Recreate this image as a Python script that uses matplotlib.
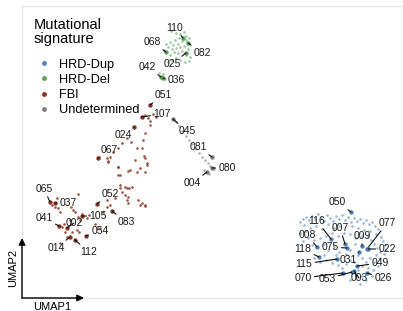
import matplotlib.pyplot as plt
from matplotlib.lines import Line2D

plt.rcParams['font.family'] = ['Liberation Sans', 'DejaVu Sans']

# UMAP embedding (units, y grows downwards)
groups = ['HRD-Dup', 'HRD-Del', 'FBI', 'Undetermined']
colors = {'HRD-Dup': '#5283bd', 'HRD-Del': '#5aa25a',
          'FBI': '#8a3522', 'Undetermined': '#7f7f7f'}

dup_x = [300, 303, 306, 309, 312, 315, 318, 321, 324, 327, 330, 333, 336, 339, 342, 345, 348, 351, 354, 357,
         360, 363, 366, 369, 372, 375, 378, 304, 310, 316, 322, 328, 334, 340, 352, 358, 364, 370, 376, 381,
         383, 385, 386, 384, 380, 377, 374, 371, 368, 362, 356, 350, 344, 338, 332, 326, 320, 314, 308, 303,
         300, 306, 312, 324, 328, 334, 339, 350, 355, 358, 362, 366, 370, 374, 378, 373, 368, 362, 358, 354,
         350, 346, 342, 338, 332, 326, 320, 314, 356, 362, 350, 366, 372, 360, 346, 336, 324, 380, 376]
dup_y = [222, 219, 217, 220, 216, 219, 214, 218, 221, 215, 218, 221, 216, 219, 215, 220, 217, 222, 218, 221,
         219, 223, 220, 224, 222, 226, 229, 225, 228, 226, 229, 224, 228, 226, 226, 228, 230, 231, 234, 237,
         241, 245, 250, 254, 252, 248, 244, 240, 236, 236, 238, 234, 233, 236, 233, 236, 238, 240, 238, 241,
         233, 231, 245, 244, 250, 247, 252, 250, 244, 255, 258, 262, 258, 262, 266, 270, 268, 266, 270, 262,
         260, 264, 268, 265, 263, 260, 262, 258, 276, 276, 280, 280, 276, 284, 254, 255, 255, 258, 255]

del_x = [171, 176, 180, 184, 186, 179, 175, 170, 173, 178, 182, 186, 189, 168, 172, 176, 180, 184, 174, 178,
         170, 182, 186, 190, 189, 185, 176, 172, 168, 180, 188, 166, 164, 163, 165, 159]
del_y = [31, 33, 34, 32, 36, 38, 40, 42, 45, 44, 41, 40, 38, 47, 49, 48, 47, 46, 52, 53,
         55, 51, 55, 57, 61, 62, 58, 60, 62, 60, 49, 44, 50, 74, 79, 73]

fbi_x = [144, 147, 137, 128, 118, 118, 120, 125, 129, 122, 125, 127, 128, 142, 145, 115, 107, 103, 89, 87,
         77, 79, 72, 65, 62, 67, 107, 108, 99, 145, 148, 150, 153, 156, 150, 145, 143, 142, 137, 131,
         127, 122, 118, 113, 110, 108, 118, 120, 130, 135, 145, 147, 140, 145, 120, 127, 132, 128, 140, 145,
         138, 110, 107, 52, 55, 58, 60, 73, 71, 75, 78, 80, 82, 70, 64, 78, 57, 95, 100, 60]
fbi_y = [156, 165, 172, 171, 167, 175, 185, 187, 188, 192, 195, 200, 203, 203, 206, 198, 207, 212, 215, 218,
         230, 232, 232, 232, 227, 237, 158, 162, 157, 115, 118, 121, 114, 117, 125, 133, 140, 148, 148, 142,
         138, 143, 148, 152, 157, 161, 167, 175, 170, 160, 158, 163, 168, 172, 188, 188, 187, 197, 205, 205,
         200, 205, 200, 205, 207, 208, 212, 210, 207, 212, 217, 220, 214, 220, 224, 194, 198, 224, 228, 243]

und_x = [176, 179, 182, 186, 189, 192, 196, 199, 202, 205, 208, 210, 214, 204, 209]
und_y = [122, 126, 131, 136, 140, 144, 149, 153, 157, 160, 163, 166, 169, 170, 174]

clouds = {'HRD-Dup': (dup_x, dup_y), 'HRD-Del': (del_x, del_y),
          'FBI': (fbi_x, fbi_y), 'Undetermined': (und_x, und_y)}

# labelled samples: id, group, point, label position
lab_ids = ['110', '068', '082', '025', '042', '036',
           '045', '081', '080', '004',
           '051', '107', '024', '067', '052', '065', '037', '041', '002', '105', '083', '054', '014', '112',
           '050', '116', '007', '077', '008', '009', '075', '022', '118', '115', '031', '049', '070', '053',
           '003', '026']
lab_grp = ['HRD-Del'] * 6 + ['Undetermined'] * 4 + ['FBI'] * 14 + ['HRD-Dup'] * 16
lab_px = [183, 166, 188, 186, 161, 163,
          173, 212, 212, 207,
          150, 142, 134, 98, 97, 50, 55, 59, 67, 82, 112, 86, 70, 75,
          351, 331, 345, 367, 317, 362, 347, 368, 319, 337, 359, 357, 343, 352, 354, 367]
lab_py = [38, 52, 43, 53, 77, 78,
          119, 157, 168, 172,
          105, 117, 127, 158, 204, 202, 203, 226, 228, 216, 211, 236, 237, 240,
          212, 239, 244, 249, 247, 246, 248, 249, 257, 259, 252, 266, 273, 272, 271, 273]
lab_tx = [175, 152, 202, 172, 147, 176,
          187, 198, 227, 192,
          163, 162, 123, 109, 110, 44, 68, 44, 74, 98, 126, 100, 56, 89,
          337, 317, 340, 387, 307, 362, 330, 387, 303, 304, 348, 380, 303, 327, 359, 383]
lab_ty = [28, 42, 53, 64, 67, 80,
          131, 147, 168, 183,
          95, 114, 135, 150, 194, 189, 203, 218, 223, 216, 222, 231, 248, 252,
          202, 221, 228, 223, 235, 236, 247, 249, 249, 264, 260, 263, 278, 279, 278, 278]

fig = plt.figure(figsize=(4.03, 3.11), dpi=100)
ax = fig.add_axes([0, 0, 1, 1])
ax.set_xlim(0, 403)
ax.set_ylim(311, 0)
ax.axis('off')

# light panel frame
ax.axhline(6, xmin=22 / 403, color='#e8e8e8', lw=1)
ax.axhline(298, xmin=22 / 403, color='#e8e8e8', lw=1)
ax.axvline(22, ymin=13 / 311, ymax=305 / 311, color='#e8e8e8', lw=1)

for g in groups:
    xs, ys = clouds[g]
    a = 0.85 if g == 'FBI' else 0.6
    ax.scatter(xs, ys, s=3.5, color=colors[g], alpha=a, lw=0)

for i, name in enumerate(lab_ids):
    c = colors[lab_grp[i]]
    ax.scatter([lab_px[i]], [lab_py[i]], s=10, color=c, lw=0, zorder=3)
    ax.annotate(name, xy=(lab_px[i], lab_py[i]), xytext=(lab_tx[i], lab_ty[i]),
                ha='center', va='center', fontsize=7.5, color='#1a1a1a',
                arrowprops=dict(arrowstyle='-', color='black', lw=0.75,
                                shrinkA=0, shrinkB=0))

# legend
ax.text(34, 18, 'Mutational\nsignature', ha='left', va='top', fontsize=10.5, linespacing=1.0)
handles = [Line2D([], [], ls='', marker='o', ms=2.5, color=colors[g]) for g in groups]
leg = ax.legend(handles, groups, loc='upper left', bbox_to_anchor=(0.077, 0.828),
                frameon=False, fontsize=9.2, handlelength=1.2,
                handletextpad=0.55, labelspacing=0.25, borderaxespad=0)

# axis arrows
ax.annotate('', xy=(84, 298), xytext=(22, 298),
            arrowprops=dict(arrowstyle='-|>', color='black', lw=1, mutation_scale=10,
                            shrinkA=0, shrinkB=0))
ax.annotate('', xy=(22, 238), xytext=(22, 298),
            arrowprops=dict(arrowstyle='-|>', color='black', lw=1, mutation_scale=10,
                            shrinkA=0, shrinkB=0))
ax.text(52, 302, 'UMAP1', ha='center', va='top', fontsize=8)
ax.text(13, 268, 'UMAP2', ha='center', va='center', rotation=90, fontsize=8)

fig.savefig('out.png', dpi=100)
